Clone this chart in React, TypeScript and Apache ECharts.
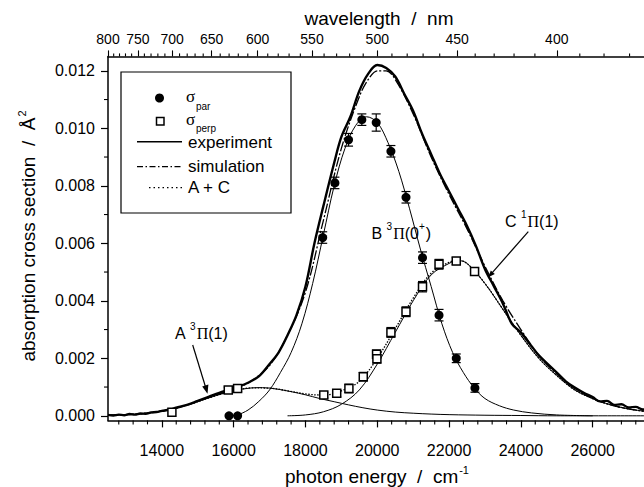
import React, { useEffect, useRef } from "react";
import * as echarts from "echarts";

// ---------- data (photon energy cm^-1, cross section Å^2) ----------
const experiment: [number, number][] = [
  [12500, 0.00003], [12650, 0.00001], [12800, 0.00004], [12950, 0.00002], [13100, 0.00006],
  [13250, 0.00004], [13400, 0.00008], [13550, 0.00007], [13700, 0.00012], [13850, 0.00013],
  [14000, 0.00017], [14200, 0.00021], [14400, 0.00028], [14700, 0.00038], [15000, 0.00052],
  [15300, 0.00066], [15600, 0.0008], [15850, 0.0009], [16100, 0.001], [16400, 0.00115],
  [16700, 0.00137], [17000, 0.0018], [17250, 0.0022], [17500, 0.0028], [17750, 0.0035],
  [18000, 0.0045], [18250, 0.006], [18500, 0.0073], [18800, 0.0088], [19000, 0.0097],
  [19250, 0.0104], [19500, 0.0113], [19750, 0.0119], [20000, 0.0122], [20250, 0.0121],
  [20500, 0.0118], [20750, 0.0112], [21000, 0.0106], [21250, 0.0098], [21500, 0.0091],
  [21750, 0.0084], [22000, 0.0078], [22250, 0.0072], [22500, 0.0066], [22750, 0.0059],
  [23000, 0.0051], [23250, 0.0045], [23500, 0.0039], [23750, 0.0032], [24000, 0.0029],
  [24250, 0.0025], [24500, 0.0021], [24750, 0.0018], [25000, 0.0015], [25250, 0.0012],
  [25500, 0.00098], [25750, 0.0008], [26000, 0.00065], [26200, 0.0005], [26400, 0.00052],
  [26600, 0.00038], [26800, 0.0004], [27000, 0.00029], [27200, 0.00031], [27400, 0.00022],
  [27600, 0.00024], [27800, 0.00015], [28000, 0.00016],
];

const simulation: [number, number][] = [
  [12500, 0.00002], [13000, 0.00004], [13500, 0.00008], [14000, 0.00016], [14500, 0.0003],
  [15000, 0.0005], [15500, 0.00072], [16000, 0.00092], [16500, 0.00122], [17000, 0.00175],
  [17500, 0.0028], [18000, 0.0043], [18500, 0.0068], [19000, 0.0093], [19500, 0.0111],
  [19750, 0.0117], [20000, 0.012], [20250, 0.012], [20500, 0.0117], [21000, 0.0105],
  [21500, 0.009], [22000, 0.0077], [22500, 0.0065], [23000, 0.0052], [23500, 0.004],
  [24000, 0.003], [24500, 0.0021], [25000, 0.00145], [25500, 0.00095], [26000, 0.0006],
  [26500, 0.00038], [27000, 0.00024], [27500, 0.00015], [28000, 0.0001],
];

const stateA: [number, number][] = [
  [12500, 0.00002], [13000, 0.00004], [13500, 0.00008], [14000, 0.00016], [14500, 0.0003],
  [15000, 0.0005], [15500, 0.0007], [16000, 0.00087], [16500, 0.00097], [16800, 0.00098],
  [17200, 0.00093], [17600, 0.00084], [18000, 0.00073], [18400, 0.0006], [18800, 0.00049],
  [19200, 0.00038], [19600, 0.00028], [20000, 0.0002], [20500, 0.00013], [21000, 0.00009],
  [21500, 0.00006], [22000, 0.00004], [23000, 0.00002], [24000, 0.00001], [25000, 0],
  [28000, 0],
];

const stateB: [number, number][] = [
  [15900, 0], [16100, 0.00003], [16400, 0.0002], [16700, 0.0005], [17000, 0.0009],
  [17300, 0.0015], [17600, 0.0022], [17900, 0.0032], [18200, 0.0046], [18500, 0.0063],
  [18800, 0.008], [19100, 0.0093], [19400, 0.0101], [19700, 0.0104], [20000, 0.0102],
  [20300, 0.0095], [20600, 0.0085], [20900, 0.0072], [21200, 0.0058], [21500, 0.0045],
  [21800, 0.0032], [22100, 0.0022], [22400, 0.0015], [22700, 0.00097], [23000, 0.0006],
  [23400, 0.00035], [23800, 0.0002], [24300, 0.0001], [25000, 0.00003], [26000, 0],
];

const stateC: [number, number][] = [
  [17500, 0], [18000, 0.00003], [18500, 0.00014], [19000, 0.0004], [19500, 0.0009],
  [20000, 0.0018], [20500, 0.0029], [21000, 0.004], [21500, 0.0049], [22000, 0.0053],
  [22250, 0.0054], [22500, 0.0053], [23000, 0.0046], [23500, 0.0037], [24000, 0.0028],
  [24500, 0.002], [25000, 0.0014], [25500, 0.0009], [26000, 0.0006], [26500, 0.00038],
  [27000, 0.00024], [27500, 0.00015], [28000, 0.0001],
];

const sumAC: [number, number][] = [
  [12500, 0.00002], [13500, 0.00008], [14500, 0.0003], [15500, 0.0007], [16000, 0.00087],
  [16500, 0.00097], [17000, 0.00096], [17500, 0.00087], [18000, 0.00076], [18500, 0.00072],
  [19000, 0.00087], [19500, 0.0012], [20000, 0.002], [20500, 0.00303], [21000, 0.00409],
  [21500, 0.00496], [22000, 0.00534], [22250, 0.00541], [22500, 0.0053], [23000, 0.0046],
  [23500, 0.0037], [24000, 0.0028], [24500, 0.002], [25000, 0.0014], [25500, 0.0009],
  [26000, 0.0006], [26500, 0.00038], [27000, 0.00024], [27500, 0.00015], [28000, 0.0001],
];

// sigma_par: [energy, value, error]
const sigmaPar: [number, number, number][] = [
  [15870, 0, 0], [16110, 0, 0], [18480, 0.0062, 0.0002], [18820, 0.0081, 0.0002],
  [19200, 0.0096, 0.00022], [19570, 0.0103, 0.0002], [19970, 0.0102, 0.0003],
  [20380, 0.0092, 0.0002], [20800, 0.0076, 0.0002], [21260, 0.0055, 0.0002],
  [21720, 0.0035, 0.0002], [22200, 0.002, 0.00015], [22720, 0.00097, 0.00015],
];

// sigma_perp: [energy, value, error]
const sigmaPerp: [number, number, number][] = [
  [14280, 0.00012, 0], [15850, 0.0009, 0.0001], [16110, 0.00095, 0.0001],
  [18510, 0.00072, 0.0001], [18870, 0.00078, 0.00012], [19210, 0.00095, 0.00015],
  [19610, 0.00136, 0.00015], [19980, 0.00214, 0.00015], [19990, 0.00198, 0.00015],
  [20380, 0.0029, 0.00017], [20800, 0.00362, 0.00017], [21260, 0.00449, 0.00018],
  [21720, 0.00527, 0.00017], [22200, 0.00538, 0.00012], [22710, 0.00502, 0.00012],
];

const energyTicks = [14000, 16000, 18000, 20000, 22000, 24000, 26000];
const energyMinorTicks = [
  12800, 13200, 13600, 14400, 14800, 15200, 15600, 16400, 16800, 17200, 17600,
  18400, 18800, 19200, 19600, 20400, 20800, 21200, 21600, 22400, 22800, 23200, 23600,
  24400, 24800, 25200, 25600, 26400, 26800, 27200, 27600,
];
const wavelengthTicks = [800, 750, 700, 650, 600, 550, 500, 450, 400];
const yTicks = [0, 0.002, 0.004, 0.006, 0.008, 0.01, 0.012];
const yMinorTicks = [0.001, 0.003, 0.005, 0.007, 0.009, 0.011];

const X_MIN = 12500;
const X_MAX = 28000;
const Y_MIN = -0.00016;
const Y_MAX = 0.0125;

const FONT = "Liberation Sans, Arial, sans-serif";
const SERIF = "Liberation Serif, Times New Roman, serif";

const wavelengthMinor: number[] = [];
for (let w = 800; w >= 360; w -= 10) {
  if (w % 50 !== 0) wavelengthMinor.push(w);
}

function errorBars(data: [number, number, number][], z: number) {
  return {
    type: "custom",
    xAxisIndex: 0,
    yAxisIndex: 0,
    silent: true,
    z,
    data: data.filter((d) => d[2] > 0).map(([x, y, e]) => [x, y - e, y + e]),
    encode: { x: 0, y: [1, 2] },
    renderItem: (_params: any, api: any) => {
      const x = api.value(0);
      const p1 = api.coord([x, api.value(1)]);
      const p2 = api.coord([x, api.value(2)]);
      const hw = 4.5;
      const style = { stroke: "#000", lineWidth: 1.2 };
      return {
        type: "group",
        children: [
          { type: "line", shape: { x1: p1[0], y1: p1[1], x2: p2[0], y2: p2[1] }, style },
          { type: "line", shape: { x1: p1[0] - hw, y1: p1[1], x2: p1[0] + hw, y2: p1[1] }, style },
          { type: "line", shape: { x1: p2[0] - hw, y1: p2[1], x2: p2[0] + hw, y2: p2[1] }, style },
        ],
      };
    },
  };
}

// minor ticks drawn through the axes' own scales
function minorTicks(points: [number, number][], side: "bottom" | "top" | "left", len: number) {
  return {
    type: "custom",
    xAxisIndex: 0,
    yAxisIndex: 0,
    silent: true,
    clip: false,
    z: 6,
    data: points,
    encode: { x: 0, y: 1 },
    renderItem: (_params: any, api: any) => {
      const p = api.coord([api.value(0), api.value(1)]);
      const style = { stroke: "#000", lineWidth: 1.1 };
      if (side === "left") {
        return { type: "line", shape: { x1: p[0] - len, y1: p[1], x2: p[0], y2: p[1] }, style };
      }
      const d = side === "bottom" ? len : -len;
      return { type: "line", shape: { x1: p[0], y1: p[1], x2: p[0], y2: p[1] + d }, style };
    },
  };
}

function lineSeries(data: [number, number][], width: number, type: any, z: number) {
  return {
    type: "line",
    xAxisIndex: 0,
    yAxisIndex: 0,
    data,
    symbol: "none",
    showSymbol: false,
    smooth: 0.35,
    silent: true,
    z,
    lineStyle: { color: "#000", width, type },
  };
}

const label = (text: string, x: number, y: number, size = 16) => ({
  type: "text",
  x,
  y,
  style: {
    text,
    fill: "#000",
    font: `${size}px ${FONT}`,
    align: "left",
    verticalAlign: "middle",
    rich: {
      n: { fontSize: size, fontFamily: FONT, lineHeight: size + 4, verticalAlign: "bottom" },
      p: { fontSize: size, fontFamily: SERIF, lineHeight: size + 4, verticalAlign: "bottom" },
      sup: { fontSize: Math.round(size * 0.62), fontFamily: FONT, verticalAlign: "top", lineHeight: size + 4, padding: [0, 1, 8, 0] },
    },
  },
});

export default function App() {
  const ref = useRef<HTMLDivElement>(null);

  useEffect(() => {
    document.body.style.margin = "0";
    if (!ref.current) return;
    const chart = echarts.init(ref.current, undefined, { renderer: "svg" });

    const axisLineStyle = { color: "#000", width: 1.5 };

    const option: any = {
      animation: false,
      backgroundColor: "#fff",
      grid: { left: 108, top: 56.4, width: 556.5, height: 364, outerBoundsMode: "none", containLabel: false },
      xAxis: [
        {
          type: "value",
          min: X_MIN,
          max: X_MAX,
          position: "bottom",
          splitLine: { show: false },
          axisLine: { show: true, onZero: false, lineStyle: axisLineStyle },
          axisTick: { show: true, length: 7, customValues: energyTicks, lineStyle: { color: "#000", width: 1.2 } },
          axisLabel: {
            show: true,
            customValues: energyTicks,
            margin: 22,
            color: "#000",
            fontSize: 16,
            fontFamily: FONT,
            formatter: (v: number) => String(v),
          },
        },
        {
          type: "value",
          min: X_MIN,
          max: X_MAX,
          position: "top",
          splitLine: { show: false },
          axisLine: { show: true, onZero: false, lineStyle: axisLineStyle },
          axisTick: {
            show: true,
            length: 6,
            customValues: wavelengthTicks.map((w) => 1e7 / w),
            lineStyle: { color: "#000", width: 1.1 },
          },
          axisLabel: {
            show: true,
            customValues: wavelengthTicks.map((w) => 1e7 / w),
            margin: 10,
            color: "#000",
            fontSize: 14,
            fontFamily: FONT,
            formatter: (v: number) => String(Math.round(1e7 / v)),
          },
        },
      ],
      yAxis: [
        {
          type: "value",
          min: Y_MIN,
          max: Y_MAX,
          position: "left",
          splitLine: { show: false },
          axisLine: { show: true, onZero: false, lineStyle: axisLineStyle },
          axisTick: { show: true, length: 7, customValues: yTicks, lineStyle: { color: "#000", width: 1.2 } },
          axisLabel: {
            show: true,
            customValues: yTicks,
            margin: 13,
            color: "#000",
            fontSize: 16,
            fontFamily: FONT,
            formatter: (v: number) => v.toFixed(3),
          },
        },
      ],
      series: [
        lineSeries(stateA, 1, "solid", 2),
        lineSeries(stateB, 1, "solid", 2),
        lineSeries(stateC, 1, "solid", 2),
        lineSeries(sumAC, 1.3, [1.5, 1.5], 2),
        lineSeries(simulation, 1.3, [10, 2, 2, 2], 2),
        lineSeries(experiment, 2.4, "solid", 2),
        errorBars(sigmaPar, 3),
        errorBars(sigmaPerp, 3),
        {
          type: "scatter",
          xAxisIndex: 0,
          yAxisIndex: 0,
          data: sigmaPar.map(([x, y]) => [x, y]),
          symbol: "circle",
          symbolSize: 9,
          silent: true,
          z: 4,
          itemStyle: { color: "#000", opacity: 1 },
        },
        {
          type: "scatter",
          xAxisIndex: 0,
          yAxisIndex: 0,
          data: sigmaPerp.map(([x, y]) => [x, y]),
          symbol: "rect",
          symbolSize: 8,
          silent: true,
          z: 4,
          itemStyle: { color: "#fff", borderColor: "#000", borderWidth: 1.5, opacity: 1 },
        },
        minorTicks(energyMinorTicks.map((v) => [v, Y_MIN] as [number, number]), "bottom", 4),
        minorTicks(wavelengthMinor.map((w) => [1e7 / w, Y_MAX] as [number, number]), "top", 3),
        minorTicks(yMinorTicks.map((v) => [X_MIN, v] as [number, number]), "left", 4),
      ],
      graphic: [
        // axis titles
        {
          type: "text",
          x: 379,
          y: 18,
          style: {
            text: "wavelength  /  nm",
            fill: "#000",
            font: `19px ${FONT}`,
            align: "center",
            verticalAlign: "middle",
          },
        },
        {
          type: "text",
          x: 377,
          y: 475,
          style: {
            text: "{n|photon energy  /  cm}{sup|-1}",
            fill: "#000",
            font: `19px ${FONT}`,
            align: "center",
            verticalAlign: "middle",
            rich: {
              n: { fontSize: 19, fontFamily: FONT, lineHeight: 22, verticalAlign: "bottom" },
              sup: { fontSize: 11, fontFamily: FONT, lineHeight: 22, verticalAlign: "top", padding: [0, 0, 8, 1] },
            },
          },
        },
        {
          type: "text",
          x: 27,
          y: 236,
          rotation: Math.PI / 2,
          style: {
            text: "{n|absorption cross section  /  Å}{sup|2}",
            fill: "#000",
            font: `19px ${FONT}`,
            align: "center",
            verticalAlign: "middle",
            rich: {
              n: { fontSize: 19, fontFamily: FONT, lineHeight: 22, verticalAlign: "bottom" },
              sup: { fontSize: 11, fontFamily: FONT, lineHeight: 22, verticalAlign: "top", padding: [0, 0, 8, 1] },
            },
          },
        },
        // legend box
        {
          type: "rect",
          shape: { x: 121, y: 72, width: 170, height: 141 },
          style: { fill: "none", stroke: "#000", lineWidth: 1.2 },
        },
        { type: "circle", shape: { cx: 159.5, cy: 98, r: 4.5 }, style: { fill: "#000" } },
        {
          type: "rect",
          shape: { x: 156.5, y: 117.5, width: 7.5, height: 7.5 },
          style: { fill: "#fff", stroke: "#000", lineWidth: 1.5 },
        },
        { type: "text", x: 186, y: 96, style: { text: "σ", fill: "#000", font: `17px ${SERIF}`, align: "left", verticalAlign: "middle" } },
        { type: "text", x: 196, y: 106, style: { text: "par", fill: "#000", font: `10px ${FONT}`, align: "left", verticalAlign: "middle" } },
        { type: "text", x: 186, y: 119, style: { text: "σ", fill: "#000", font: `17px ${SERIF}`, align: "left", verticalAlign: "middle" } },
        { type: "text", x: 196, y: 128.5, style: { text: "perp", fill: "#000", font: `10px ${FONT}`, align: "left", verticalAlign: "middle" } },
        {
          type: "line",
          shape: { x1: 137, y1: 141.7, x2: 182, y2: 141.7 },
          style: { stroke: "#000", lineWidth: 1.4 },
        },
        {
          type: "line",
          shape: { x1: 137, y1: 166.7, x2: 182, y2: 166.7 },
          style: { stroke: "#000", lineWidth: 1.3, lineDash: [6, 2.5, 1.5, 2.5] },
        },
        {
          type: "line",
          shape: { x1: 149, y1: 187.7, x2: 182, y2: 187.7 },
          style: { stroke: "#000", lineWidth: 1.3, lineDash: [1.5, 3] },
        },
        { type: "text", x: 188, y: 142, style: { text: "experiment", fill: "#000", font: `17px ${FONT}`, align: "left", verticalAlign: "middle" } },
        { type: "text", x: 188, y: 166, style: { text: "simulation", fill: "#000", font: `17px ${FONT}`, align: "left", verticalAlign: "middle" } },
        { type: "text", x: 188, y: 187, style: { text: "A + C", fill: "#000", font: `17px ${FONT}`, align: "left", verticalAlign: "middle" } },
        // state labels
        label("{n|A }{sup|3}{p|Π}{n|(1)}", 175, 331),
        label("{n|B }{sup|3}{p|Π}{n|(0}{sup|+}{n|)}", 371.5, 231),
        label("{n|C }{sup|1}{p|Π}{n|(1)}", 505, 219.5),
        // arrows
        {
          type: "line",
          shape: { x1: 192.7, y1: 345, x2: 206, y2: 388.5 },
          style: { stroke: "#000", lineWidth: 1.2 },
        },
        {
          type: "polygon",
          shape: { points: [[207.5, 393.8], [208.4, 384.6], [202.2, 386.6]] },
          style: { fill: "#000" },
        },
        {
          type: "line",
          shape: { x1: 528.3, y1: 231.7, x2: 489, y2: 276.3 },
          style: { stroke: "#000", lineWidth: 1.2 },
        },
        {
          type: "polygon",
          shape: { points: [[488.3, 277.2], [490.8, 270.6], [494.8, 274.1]] },
          style: { fill: "#000" },
        },
      ],
    };

    chart.setOption(option);
    return () => chart.dispose();
  }, []);

  return <div ref={ref} style={{ width: 644, height: 487 }} />;
}
